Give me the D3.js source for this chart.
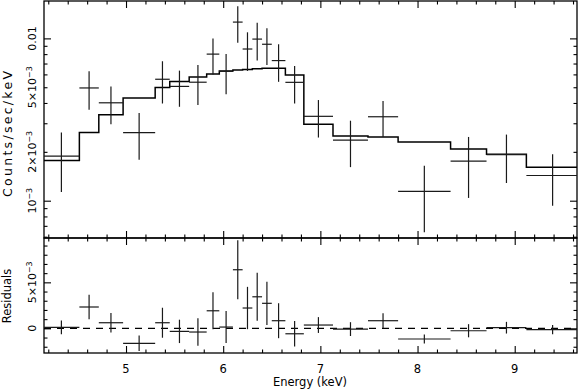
<!DOCTYPE html>
<html><head><meta charset="utf-8">
<script src="https://cdn.jsdelivr.net/npm/d3@7"></script>
<style>
body{margin:0;background:#fff}
svg{display:block}
text{font-family:"DejaVu Sans","Liberation Sans",Arial,sans-serif;fill:#000}
</style>
</head><body>
<svg id="c" width="579" height="389"></svg>
<script>
// ---- data ----
const binEdges = [4.15, 4.52, 4.72, 4.97, 5.30, 5.45, 5.65, 5.83, 5.96, 6.10, 6.20, 6.30, 6.40, 6.50, 6.64, 6.83, 7.13, 7.49, 7.80, 8.34, 8.71, 9.12, 9.66];
const counts   = [1.88e-3, 4.95e-3, 4.01e-3, 2.63e-3, 5.60e-3, 5.06e-3, 5.37e-3, 8.0e-3, 6.27e-3, 12.6e-3, 8.6e-3, 9.9e-3, 9.2e-3, 7.3e-3, 5.36e-3, 3.31e-3, 2.36e-3, 3.29e-3, 1.14e-3, 1.755e-3, 1.92e-3, 1.43e-3];
const countErr = [0.75e-3, 1.32e-3, 1.05e-3, 0.84e-3, 1.63e-3, 1.27e-3, 1.49e-3, 2.0e-3, 1.74e-3, 3.2e-3, 2.3e-3, 2.6e-3, 2.35e-3, 1.9e-3, 1.39e-3, 0.86e-3, 0.75e-3, 0.82e-3, 0.50e-3, 0.715e-3, 0.635e-3, 0.50e-3];
const model    = [1.77e-3, 2.63e-3, 3.38e-3, 4.29e-3, 4.99e-3, 5.43e-3, 5.78e-3, 6.03e-3, 6.29e-3, 6.38e-3, 6.44e-3, 6.50e-3, 6.54e-3, 6.54e-3, 5.94e-3, 2.96e-3, 2.50e-3, 2.47e-3, 2.30e-3, 2.08e-3, 1.93e-3, 1.61e-3];
const residuals= [0.11e-3, 2.32e-3, 0.61e-3, -1.63e-3, 0.61e-3, -0.33e-3, -0.40e-3, 1.91e-3, 0.14e-3, 6.37e-3, 2.21e-3, 3.43e-3, 2.72e-3, 0.83e-3, -0.59e-3, 0.36e-3, -0.08e-3, 0.83e-3, -1.16e-3, -0.26e-3, 0.07e-3, -0.15e-3];

const xMajorTicks = [5, 6, 7, 8, 9];
const xTickLabels = ["5", "6", "7", "8", "9"];
const xMinorTicks = [4.2, 4.4, 4.6, 4.8, 5.2, 5.4, 5.6, 5.8, 6.2, 6.4, 6.6, 6.8, 7.2, 7.4, 7.6, 7.8, 8.2, 8.4, 8.6, 8.8, 9.2, 9.4, 9.6];
const yTopMajor = [1e-3, 1e-2];
const yTopMinor = [6e-4, 7e-4, 8e-4, 9e-4, 2e-3, 3e-3, 4e-3, 5e-3, 6e-3, 7e-3, 8e-3, 9e-3];
const yTopLabelValues = [1e-2, 5e-3, 2e-3, 1e-3];
const yTopLabelBase = ["0.01", "5×10", "2×10", "10"];
const yTopLabelExp  = ["", "−3", "−3", "−3"];
const yResMajor = [0, 5e-3];
const yResMinor = [-2e-3, -1e-3, 1e-3, 2e-3, 3e-3, 4e-3, 6e-3, 7e-3, 8e-3, 9e-3];
const yResLabelValues = [0, 5e-3];
const yResLabelBase = ["0", "5×10"];
const yResLabelExp  = ["", "−3"];

// ---- layout ----
const L = 44, R = 577, T1 = 1, B1 = 238, T2 = 238, B2 = 353;
const svg = d3.select("#c");

const x = d3.scaleLinear().domain([4.156, 9.641]).range([L, R]);
const yTop = d3.scaleLog().domain([5.891e-4, 0.016995]).range([B1, T1]);
const yRes = d3.scaleLinear().domain([-2.68e-3, 9.82e-3]).range([B2, T2]);

const defs = svg.append("defs");
defs.append("clipPath").attr("id","clipTop").append("rect").attr("x",L).attr("y",T1).attr("width",R-L).attr("height",B1-T1);
defs.append("clipPath").attr("id","clipRes").append("rect").attr("x",L).attr("y",T2).attr("width",R-L).attr("height",B2-T2);

const bins = counts.map((c,i)=>({lo:binEdges[i], hi:binEdges[i+1], mid:(binEdges[i]+binEdges[i+1])/2, c, e:countErr[i], m:model[i], r:residuals[i]}));

const ink = "#000";
const MAJ = 7, MIN = 3.5;

function tickAxis(g, axisFn, scale, vals, size){
  g.call(axisFn(scale).tickValues(vals).tickSize(size).tickFormat(""));
  g.select(".domain").remove();
  g.selectAll(".tick line").attr("stroke", ink).attr("stroke-width", 1.1);
}

// ---- frames & ticks ----
function panel(top, bottom, yScale, yMaj, yMin){
  const xb = svg.append("g").attr("transform",`translate(0,${bottom})`);
  tickAxis(xb.append("g"), d3.axisBottom, x, xMajorTicks, -MAJ);
  tickAxis(xb.append("g"), d3.axisBottom, x, xMinorTicks, -MIN);
  const xt = svg.append("g").attr("transform",`translate(0,${top})`);
  tickAxis(xt.append("g"), d3.axisTop, x, xMajorTicks, -MAJ);
  tickAxis(xt.append("g"), d3.axisTop, x, xMinorTicks, -MIN);
  const yl = svg.append("g").attr("transform",`translate(${L},0)`);
  tickAxis(yl.append("g"), d3.axisLeft, yScale, yMaj, -MAJ);
  tickAxis(yl.append("g"), d3.axisLeft, yScale, yMin, -MIN);
  const yr = svg.append("g").attr("transform",`translate(${R},0)`);
  tickAxis(yr.append("g"), d3.axisRight, yScale, yMaj, -MAJ);
  tickAxis(yr.append("g"), d3.axisRight, yScale, yMin, -MIN);
  svg.append("rect").attr("x",L).attr("y",top).attr("width",R-L).attr("height",bottom-top)
    .attr("fill","none").attr("stroke",ink).attr("stroke-width",1.3);
}
panel(T1, B1, yTop, yTopMajor, yTopMinor);
panel(T2, B2, yRes, yResMajor, yResMinor);

// ---- top panel: model step + data crosses ----
const gTop = svg.append("g").attr("clip-path","url(#clipTop)");
const stepPts = [];
bins.forEach(b=>{ stepPts.push([b.lo,b.m]); stepPts.push([b.hi,b.m]); });
gTop.append("path").datum(stepPts)
  .attr("d", d3.line().x(d=>x(d[0])).y(d=>yTop(d[1])))
  .attr("fill","none").attr("stroke",ink).attr("stroke-width",1.5);

const crossColor = "#1a1a1a";
gTop.selectAll("line.h").data(bins).join("line")
  .attr("x1",d=>x(d.lo)).attr("x2",d=>x(d.hi)).attr("y1",d=>yTop(d.c)).attr("y2",d=>yTop(d.c))
  .attr("stroke",crossColor).attr("stroke-width",1.2);
gTop.selectAll("line.v").data(bins).join("line")
  .attr("x1",d=>x(d.mid)).attr("x2",d=>x(d.mid))
  .attr("y1",d=>yTop(Math.max(d.c-d.e, 1e-5))).attr("y2",d=>yTop(d.c+d.e))
  .attr("stroke",crossColor).attr("stroke-width",1.2);

// ---- residual panel ----
const gRes = svg.append("g").attr("clip-path","url(#clipRes)");
gRes.append("line").attr("x1",L).attr("x2",R).attr("y1",yRes(0)).attr("y2",yRes(0))
  .attr("stroke",ink).attr("stroke-width",1.2).attr("stroke-dasharray","7,6");
gRes.selectAll("line.rh").data(bins).join("line")
  .attr("x1",d=>x(d.lo)).attr("x2",d=>x(d.hi)).attr("y1",d=>yRes(d.r)).attr("y2",d=>yRes(d.r))
  .attr("stroke",crossColor).attr("stroke-width",1.2);
gRes.selectAll("line.rv").data(bins).join("line")
  .attr("x1",d=>x(d.mid)).attr("x2",d=>x(d.mid))
  .attr("y1",d=>yRes(d.r-d.e)).attr("y2",d=>yRes(d.r+d.e))
  .attr("stroke",crossColor).attr("stroke-width",1.2);

// ---- labels ----
const FS = 11.5;
function rotLabel(xPos, yPos, base, exp, size){
  const t = svg.append("text").attr("transform",`translate(${xPos},${yPos}) rotate(-90)`)
    .attr("text-anchor","middle").attr("font-size",size);
  t.append("tspan").text(base);
  if (exp) t.append("tspan").attr("dy","-0.45em").attr("font-size",size*0.72).text(exp);
}
yTopLabelValues.forEach((v,i)=>rotLabel(36, yTop(v), yTopLabelBase[i], yTopLabelExp[i], 11));
yResLabelValues.forEach((v,i)=>rotLabel(36, yRes(v), yResLabelBase[i], yResLabelExp[i], 11));

svg.selectAll("text.xl").data(xMajorTicks).join("text")
  .attr("x",d=>x(d)).attr("y",373).attr("text-anchor","middle").attr("font-size",FS)
  .text((d,i)=>xTickLabels[i]);

svg.append("text").attr("x",310).attr("y",386).attr("text-anchor","middle").attr("font-size",FS).text("Energy (keV)");
svg.append("text").attr("transform","translate(11.5,134) rotate(-90)").attr("text-anchor","middle")
  .attr("font-size",12.5).attr("textLength",126).attr("lengthAdjust","spacing").text("Counts/sec/keV");
svg.append("text").attr("transform","translate(11,296) rotate(-90)").attr("text-anchor","middle")
  .attr("font-size",FS).text("Residuals");
</script>
</body></html>
